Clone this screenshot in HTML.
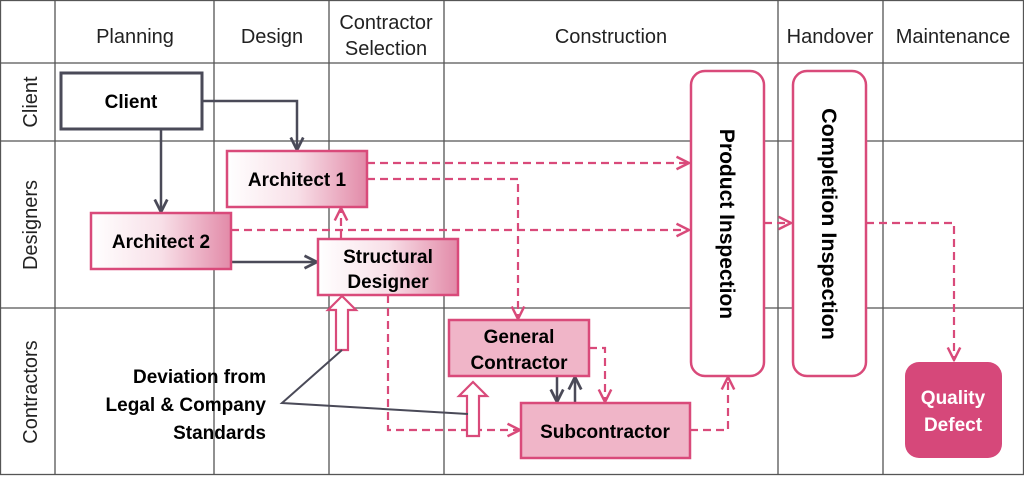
<!DOCTYPE html>
<html><head><meta charset="utf-8"><style>
html,body{margin:0;padding:0;background:#fff}
svg{display:block}
text{font-family:"Liberation Sans","DejaVu Sans",sans-serif}
</style></head><body>
<svg width="1024" height="477" viewBox="0 0 1024 477" xmlns="http://www.w3.org/2000/svg">
<defs>
<linearGradient id="g" x1="0" x2="1" y1="0" y2="0"><stop offset="0" stop-color="#fff"/><stop offset="0.5" stop-color="#f8e0e8"/><stop offset="1" stop-color="#e28aa8"/></linearGradient>
<marker id="ag" viewBox="0 0 12 12" refX="11" refY="6" markerWidth="15" markerHeight="15" markerUnits="userSpaceOnUse" orient="auto"><path d="M1,1 L11,6 L1,11" fill="none" stroke="#4a4a58" stroke-width="2.2"/></marker>
<marker id="ap" viewBox="0 0 12 12" refX="11" refY="6" markerWidth="15" markerHeight="15" markerUnits="userSpaceOnUse" orient="auto"><path d="M1,1 L11,6 L1,11" fill="none" stroke="#d94a7a" stroke-width="2"/></marker>
</defs>
<g stroke="#555" stroke-width="1.3" fill="none">
<rect x="0.5" y="0.5" width="1023" height="474"/>
<line x1="55" y1="0" x2="55" y2="475"/><line x1="214" y1="0" x2="214" y2="475"/><line x1="329" y1="0" x2="329" y2="475"/><line x1="444" y1="0" x2="444" y2="475"/><line x1="778" y1="0" x2="778" y2="475"/><line x1="883" y1="0" x2="883" y2="475"/>
<line x1="0" y1="63" x2="1024" y2="63"/><line x1="0" y1="141" x2="1024" y2="141"/><line x1="0" y1="308" x2="1024" y2="308"/>
</g>
<g font-size="20" fill="#222" text-anchor="middle">
<text x="135" y="43">Planning</text><text x="272" y="43">Design</text>
<text x="386" y="29">Contractor</text><text x="386" y="55">Selection</text>
<text x="611" y="43">Construction</text><text x="830" y="43">Handover</text><text x="953" y="43">Maintenance</text>
<text transform="translate(37,102) rotate(-90)">Client</text>
<text transform="translate(37,225) rotate(-90)">Designers</text>
<text transform="translate(37,392) rotate(-90)">Contractors</text>
</g>
<g fill="none" stroke-width="2.5">
<path d="M202,101 H297 V150" stroke="#4a4a58" marker-end="url(#ag)"/>
<path d="M161,129 V212" stroke="#4a4a58" marker-end="url(#ag)"/>
<path d="M231,262 H317" stroke="#4a4a58" marker-end="url(#ag)"/>
<path d="M557,376 V402" stroke="#4a4a58" marker-end="url(#ag)"/>
<path d="M575,403 V377" stroke="#4a4a58" marker-end="url(#ag)"/>
</g>
<g fill="none" stroke="#d94a7a" stroke-width="2.2" stroke-dasharray="8,5">
<path d="M367,163 H689" marker-end="url(#ap)"/>
<path d="M367,179 H518 V319" marker-end="url(#ap)"/>
<path d="M231,230 H689" marker-end="url(#ap)"/>
<path d="M341,239 V208" marker-end="url(#ap)"/>
<path d="M388,295 V430 H520" marker-end="url(#ap)"/>
<path d="M589,348 H605 V402" marker-end="url(#ap)"/>
<path d="M690,430 H728 V377" marker-end="url(#ap)"/>
<path d="M764,223 H791" marker-end="url(#ap)"/>
<path d="M866,223 H954 V360" marker-end="url(#ap)"/>
</g>
<rect x="61" y="73" width="141" height="56" fill="#fff" stroke="#4a4a58" stroke-width="3"/>
<text x="131" y="108" font-size="19" font-weight="bold" text-anchor="middle">Client</text>
<rect x="227" y="151" width="140" height="56" fill="url(#g)" stroke="#d94a7a" stroke-width="2.5"/>
<text x="297" y="186" font-size="19" font-weight="bold" text-anchor="middle">Architect 1</text>
<rect x="91" y="213" width="140" height="56" fill="url(#g)" stroke="#d94a7a" stroke-width="2.5"/>
<text x="161" y="248" font-size="19" font-weight="bold" text-anchor="middle">Architect 2</text>
<rect x="318" y="239" width="140" height="56" fill="url(#g)" stroke="#d94a7a" stroke-width="2.5"/>
<text x="388" y="263" font-size="19" font-weight="bold" text-anchor="middle">Structural</text>
<text x="388" y="288" font-size="19" font-weight="bold" text-anchor="middle">Designer</text>
<rect x="449" y="320" width="140" height="56" fill="#f0b5c8" stroke="#d94a7a" stroke-width="2.5"/>
<text x="519" y="343" font-size="19" font-weight="bold" text-anchor="middle">General</text>
<text x="519" y="369" font-size="19" font-weight="bold" text-anchor="middle">Contractor</text>
<rect x="521" y="403" width="169" height="55" fill="#f0b5c8" stroke="#d94a7a" stroke-width="2.5"/>
<text x="605" y="438" font-size="19" font-weight="bold" text-anchor="middle">Subcontractor</text>
<rect x="691" y="71" width="73" height="305" rx="14" fill="#fff" stroke="#d94a7a" stroke-width="2.5"/>
<text transform="translate(720,224) rotate(90)" font-size="21" font-weight="bold" text-anchor="middle">Product Inspection</text>
<rect x="793" y="71" width="73" height="305" rx="14" fill="#fff" stroke="#d94a7a" stroke-width="2.5"/>
<text transform="translate(822,224) rotate(90)" font-size="21.5" font-weight="bold" text-anchor="middle">Completion Inspection</text>
<rect x="905" y="362" width="97" height="96" rx="14" fill="#d6487a"/>
<text x="953" y="404" font-size="19" font-weight="bold" fill="#fff" text-anchor="middle">Quality</text>
<text x="953" y="431" font-size="19" font-weight="bold" fill="#fff" text-anchor="middle">Defect</text>
<path d="M336,350 V310 H328 L342,296 L356,310 H348 V350 Z" fill="#fff" stroke="#d94a7a" stroke-width="2.2"/>
<path d="M467,436 V396 H459 L473,382 L487,396 H479 V436 Z" fill="#fff" stroke="#d94a7a" stroke-width="2.2"/>
<path d="M342,350 L282,403 L468,414" fill="none" stroke="#4a4a58" stroke-width="2"/>
<g font-size="19" font-weight="bold" text-anchor="end">
<text x="266" y="383">Deviation from</text>
<text x="266" y="411">Legal &amp; Company</text>
<text x="266" y="439">Standards</text>
</g>
</svg>
</body></html>
